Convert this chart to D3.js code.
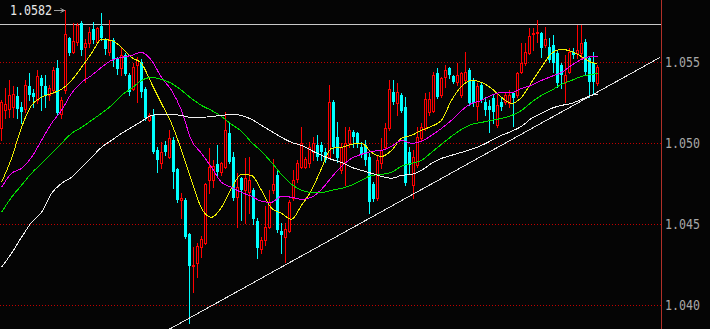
<!DOCTYPE html>
<html>
<head>
<meta charset="utf-8">
<script src="https://cdn.jsdelivr.net/npm/d3@7"></script>
<style>
  html, body { margin: 0; padding: 0; background: #050505; }
  svg { display: block; }
  text { font-family: "DejaVu Sans Mono", monospace; }
</style>
</head>
<body>
<div id="chart"></div>
<script>
// daily candles, oldest first (prices)
const openP = [
  1.05090, 1.05201, 1.05207, 1.05220, 1.05288, 1.05220, 1.05207, 1.05349, 1.05306, 1.05263,
  1.05399, 1.05349, 1.05294, 1.05325, 1.05460, 1.05177, 1.05325, 1.05646, 1.05559, 1.05621,
  1.05738, 1.05590, 1.05615, 1.05701, 1.05621, 1.05720, 1.05633, 1.05559, 1.05633, 1.05516,
  1.05460, 1.05541, 1.05417, 1.05331, 1.05479, 1.05497, 1.05331, 1.05140, 1.05170, 1.04954,
  1.04874, 1.04985, 1.04911, 1.05016, 1.04837, 1.04646, 1.04646, 1.04436, 1.04239, 1.04257,
  1.04356, 1.04381, 1.04769, 1.04769, 1.04868, 1.04819, 1.04850, 1.05059, 1.04911, 1.04665,
  1.04782, 1.04708, 1.04695, 1.04708, 1.04516, 1.04344, 1.04399, 1.04479, 1.04708, 1.04800,
  1.04455, 1.04418, 1.04455, 1.04658, 1.04776, 1.04850, 1.04850, 1.04874, 1.04942, 1.04985,
  1.04985, 1.04942, 1.04911, 1.05251, 1.05035, 1.04831, 1.04880, 1.04998, 1.05066, 1.05059,
  1.04973, 1.04985, 1.04911, 1.04745, 1.04658, 1.04874, 1.04973, 1.05090, 1.05312, 1.05244,
  1.05294, 1.05220, 1.04942, 1.04739, 1.04862, 1.05029, 1.05090, 1.05189, 1.05195, 1.05430,
  1.05294, 1.05405, 1.05460, 1.05411, 1.05374, 1.05294, 1.05386, 1.05448, 1.05386, 1.05226,
  1.05356, 1.05251, 1.05226, 1.05275, 1.05109, 1.05251, 1.05251, 1.05244, 1.05306, 1.05294,
  1.05436, 1.05491, 1.05553, 1.05670, 1.05676, 1.05676, 1.05602, 1.05590, 1.05602, 1.05553,
  1.05479, 1.05374, 1.05436, 1.05559, 1.05553, 1.05553, 1.05621, 1.05522, 1.05491, 1.05368
]
const highP = [
  1.05263, 1.05337, 1.05386, 1.05349, 1.05343, 1.05251, 1.05386, 1.05430, 1.05331, 1.05448,
  1.05417, 1.05417, 1.05356, 1.05467, 1.05510, 1.05282, 1.05818, 1.05652, 1.05738, 1.05738,
  1.05750, 1.05639, 1.05713, 1.05744, 1.05713, 1.05800, 1.05646, 1.05757, 1.05646, 1.05528,
  1.05590, 1.05553, 1.05430, 1.05491, 1.05528, 1.05516, 1.05343, 1.05183, 1.05207, 1.04973,
  1.05004, 1.05010, 1.05078, 1.05035, 1.04843, 1.04689, 1.04658, 1.04442, 1.04356, 1.04381,
  1.04424, 1.04751, 1.04967, 1.04893, 1.04985, 1.04880, 1.05189, 1.05121, 1.04942, 1.04813,
  1.04788, 1.04905, 1.04911, 1.04720, 1.04535, 1.04418, 1.04609, 1.04708, 1.04899, 1.04831,
  1.04504, 1.04504, 1.04646, 1.04831, 1.04893, 1.05096, 1.04911, 1.05004, 1.05035, 1.05047,
  1.05004, 1.04967, 1.05356, 1.05263, 1.05127, 1.04998, 1.05096, 1.05096, 1.05078, 1.05066,
  1.05004, 1.05016, 1.04936, 1.04757, 1.04924, 1.05029, 1.05121, 1.05386, 1.05386, 1.05368,
  1.05306, 1.05282, 1.04973, 1.04954, 1.05096, 1.05121, 1.05306, 1.05312, 1.05436, 1.05460,
  1.05405, 1.05479, 1.05467, 1.05417, 1.05491, 1.05436, 1.05559, 1.05460, 1.05399, 1.05368,
  1.05368, 1.05282, 1.05263, 1.05294, 1.05306, 1.05275, 1.05306, 1.05325, 1.05312, 1.05436,
  1.05615, 1.05615, 1.05707, 1.05707, 1.05757, 1.05683, 1.05713, 1.05646, 1.05664, 1.05571,
  1.05491, 1.05541, 1.05584, 1.05584, 1.05726, 1.05726, 1.05639, 1.05528, 1.05559, 1.05479
]
const lowP = [
  1.05016, 1.05152, 1.05158, 1.05158, 1.05152, 1.05121, 1.05189, 1.05263, 1.05220, 1.05244,
  1.05201, 1.05220, 1.05263, 1.05306, 1.05170, 1.05152, 1.05306, 1.05541, 1.05553, 1.05602,
  1.05541, 1.05374, 1.05590, 1.05615, 1.05615, 1.05633, 1.05547, 1.05541, 1.05473, 1.05423,
  1.05417, 1.05417, 1.05294, 1.05325, 1.05251, 1.05282, 1.05140, 1.05133, 1.04936, 1.04819,
  1.04843, 1.04924, 1.04905, 1.04720, 1.04634, 1.04535, 1.04412, 1.03887, 1.04078, 1.04171,
  1.04294, 1.04375, 1.04689, 1.04726, 1.04788, 1.04800, 1.04843, 1.04874, 1.04646, 1.04479,
  1.04523, 1.04504, 1.04566, 1.04498, 1.04288, 1.04319, 1.04368, 1.04473, 1.04689, 1.04449,
  1.04319, 1.04263, 1.04449, 1.04646, 1.04757, 1.04843, 1.04843, 1.04850, 1.04893, 1.04893,
  1.04893, 1.04880, 1.04905, 1.04936, 1.04880, 1.04813, 1.04739, 1.04973, 1.04973, 1.04973,
  1.04911, 1.04862, 1.04566, 1.04640, 1.04646, 1.04843, 1.04967, 1.05078, 1.05238, 1.05170,
  1.05189, 1.04739, 1.04813, 1.04658, 1.04850, 1.05016, 1.05078, 1.05170, 1.05189, 1.05275,
  1.05282, 1.05343, 1.05399, 1.05368, 1.05356, 1.05282, 1.05374, 1.05232, 1.05226, 1.05140,
  1.05251, 1.05170, 1.05066, 1.05121, 1.05096, 1.05201, 1.05238, 1.05220, 1.05103, 1.05282,
  1.05430, 1.05479, 1.05547, 1.05571, 1.05621, 1.05528, 1.05590, 1.05497, 1.05436, 1.05343,
  1.05337, 1.05251, 1.05430, 1.05522, 1.05522, 1.05522, 1.05417, 1.05282, 1.05306, 1.05356
]
const closeP = [
  1.05251, 1.05238, 1.05294, 1.05300, 1.05207, 1.05189, 1.05356, 1.05294, 1.05282, 1.05411,
  1.05349, 1.05288, 1.05337, 1.05448, 1.05183, 1.05263, 1.05670, 1.05553, 1.05627, 1.05726,
  1.05571, 1.05615, 1.05683, 1.05633, 1.05707, 1.05646, 1.05578, 1.05633, 1.05516, 1.05454,
  1.05541, 1.05423, 1.05312, 1.05467, 1.05510, 1.05312, 1.05152, 1.05170, 1.04942, 1.04893,
  1.04942, 1.04942, 1.05029, 1.04819, 1.04646, 1.04658, 1.04418, 1.04239, 1.04245, 1.04362,
  1.04405, 1.04745, 1.04850, 1.04856, 1.04819, 1.04874, 1.05078, 1.04880, 1.04658, 1.04726,
  1.04708, 1.04782, 1.04769, 1.04529, 1.04350, 1.04399, 1.04479, 1.04634, 1.04745, 1.04461,
  1.04430, 1.04467, 1.04634, 1.04769, 1.04874, 1.04998, 1.04899, 1.04973, 1.04998, 1.04911,
  1.04942, 1.04893, 1.05251, 1.04973, 1.04905, 1.04973, 1.04998, 1.05078, 1.05035, 1.04998,
  1.04930, 1.04893, 1.04634, 1.04652, 1.04893, 1.04954, 1.05090, 1.05331, 1.05251, 1.05312,
  1.05195, 1.04751, 1.04862, 1.04911, 1.05035, 1.05096, 1.05269, 1.05269, 1.05417, 1.05282,
  1.05399, 1.05448, 1.05417, 1.05374, 1.05417, 1.05430, 1.05436, 1.05244, 1.05244, 1.05349,
  1.05263, 1.05201, 1.05201, 1.05189, 1.05232, 1.05220, 1.05294, 1.05294, 1.05275, 1.05430,
  1.05491, 1.05559, 1.05658, 1.05676, 1.05683, 1.05584, 1.05639, 1.05510, 1.05491, 1.05368,
  1.05417, 1.05417, 1.05559, 1.05541, 1.05571, 1.05615, 1.05436, 1.05374, 1.05374, 1.05467
]

// moving averages, read every 2.5 candles
const maAt = d3.range(0, 150, 2.5).concat([149])
const maFast = [
  1.04757, 1.04905, 1.05096, 1.05232, 1.05282, 1.05306, 1.05331, 1.05386, 1.05467, 1.05553,
  1.05639, 1.05633, 1.05590, 1.05528, 1.05491, 1.05368, 1.05244, 1.05121, 1.04954, 1.04769,
  1.04597, 1.04541, 1.04603, 1.04720, 1.04806, 1.04800, 1.04708, 1.04597, 1.04566, 1.04529,
  1.04615, 1.04708, 1.04843, 1.04967, 1.04973, 1.04992, 1.04998, 1.04942, 1.04917, 1.04954,
  1.05029, 1.05047, 1.05078, 1.05103, 1.05140, 1.05263, 1.05349, 1.05386, 1.05374, 1.05337,
  1.05282, 1.05244, 1.05282, 1.05374, 1.05467, 1.05553, 1.05578, 1.05565, 1.05534, 1.05497,
  1.05491
]
const maMid = [
  1.04726, 1.04813, 1.04843, 1.04911, 1.05016, 1.05121, 1.05201, 1.05306, 1.05374, 1.05417,
  1.05467, 1.05510, 1.05528, 1.05541, 1.05559, 1.05510, 1.05405, 1.05325, 1.05201, 1.05016,
  1.04936, 1.04850, 1.04757, 1.04726, 1.04695, 1.04671, 1.04640, 1.04634, 1.04671, 1.04665,
  1.04652, 1.04665, 1.04714, 1.04788, 1.04856, 1.04905, 1.04930, 1.04948, 1.04954, 1.04979,
  1.05016, 1.04998, 1.05010, 1.05047, 1.05090, 1.05140, 1.05201, 1.05244, 1.05263, 1.05294,
  1.05312, 1.05312, 1.05337, 1.05356, 1.05386, 1.05411, 1.05436, 1.05479, 1.05516, 1.05534,
  1.05534
]
const maSlow = [
  1.04572, 1.04665, 1.04739, 1.04813, 1.04874, 1.04936, 1.04998, 1.05059, 1.05096, 1.05140,
  1.05183, 1.05232, 1.05294, 1.05337, 1.05386, 1.05405, 1.05393, 1.05368, 1.05325, 1.05275,
  1.05232, 1.05201, 1.05164, 1.05115, 1.05072, 1.05004, 1.04948, 1.04880, 1.04806, 1.04745,
  1.04708, 1.04695, 1.04695, 1.04708, 1.04720, 1.04739, 1.04769, 1.04800, 1.04806, 1.04819,
  1.04856, 1.04874, 1.04893, 1.04942, 1.04992, 1.05041, 1.05084, 1.05115, 1.05127, 1.05140,
  1.05152, 1.05170, 1.05201, 1.05251, 1.05294, 1.05325, 1.05362, 1.05386, 1.05411, 1.05423,
  1.05430
]
const maLong = [
  1.04233, 1.04319, 1.04418, 1.04510, 1.04572, 1.04689, 1.04751, 1.04788, 1.04850, 1.04911,
  1.04973, 1.05016, 1.05059, 1.05096, 1.05133, 1.05170, 1.05177, 1.05177, 1.05170, 1.05158,
  1.05158, 1.05164, 1.05170, 1.05177, 1.05170, 1.05146, 1.05109, 1.05072, 1.05035, 1.05004,
  1.04985, 1.04954, 1.04924, 1.04899, 1.04880, 1.04850, 1.04831, 1.04813, 1.04794, 1.04782,
  1.04800, 1.04806, 1.04831, 1.04874, 1.04905, 1.04924, 1.04942, 1.04961, 1.04985, 1.05016,
  1.05047, 1.05072, 1.05103, 1.05152, 1.05183, 1.05214, 1.05232, 1.05244, 1.05269, 1.05294,
  1.05300
]
const maColors = ['#f0f000', '#f000f0', '#00e000', '#f0f0f0']

const priceTicks = [1.040, 1.045, 1.050, 1.055]
const resistance = 1.05732
// trend line anchors: [candle index, price]
const trendFrom = [41.9, 1.03850]
const trendTo = [164.6, 1.05528]
const highLabel = '1.0582'
const highIndex = 16

const width = 710, height = 329
const plotRight = 661

const x = d3.scaleLinear().domain([0, 149]).range([1.5, 597.5])
const y = d3.scaleLinear().domain([1.040, 1.055]).range([305, 62])

const svg = d3.select('#chart').append('svg')
  .attr('width', width)
  .attr('height', height)

svg.append('rect')
  .attr('width', width).attr('height', height)
  .attr('fill', '#050505')

svg.append('defs').append('clipPath').attr('id', 'plot')
  .append('rect').attr('width', plotRight).attr('height', height)

const plot = svg.append('g').attr('clip-path', 'url(#plot)')

// dotted price grid
plot.selectAll('.grid')
  .data(priceTicks)
  .join('line')
    .attr('class', 'grid')
    .attr('x1', 0).attr('x2', plotRight)
    .attr('y1', d => Math.round(y(d)) + 0.5)
    .attr('y2', d => Math.round(y(d)) + 0.5)
    .attr('stroke', '#c00000')
    .attr('stroke-dasharray', '1,2')
    .attr('shape-rendering', 'crispEdges')

// horizontal resistance line
plot.append('line')
  .attr('x1', 0).attr('x2', plotRight)
  .attr('y1', Math.round(y(resistance)) + 0.5)
  .attr('y2', Math.round(y(resistance)) + 0.5)
  .attr('stroke', '#c8c8c8')
  .attr('shape-rendering', 'crispEdges')

const candles = openP.map((o, i) => ({
  i, o, h: highP[i], l: lowP[i], c: closeP[i], up: closeP[i] >= o
}))

const candle = plot.append('g').attr('shape-rendering', 'crispEdges')
  .selectAll('g')
  .data(candles)
  .join('g')

candle.append('line')
  .attr('x1', d => Math.floor(x(d.i)) + 0.5)
  .attr('x2', d => Math.floor(x(d.i)) + 0.5)
  .attr('y1', d => Math.round(y(d.h)))
  .attr('y2', d => Math.round(y(d.l)) + 1)
  .attr('stroke', d => d.up ? '#ff0000' : '#00ffff')

candle.append('rect')
  .each(function (d) {
    const top = Math.round(y(Math.max(d.o, d.c)))
    const bot = Math.round(y(Math.min(d.o, d.c)))
    const left = Math.floor(x(d.i)) - 1
    const r = d3.select(this)
    if (d.up) {
      r.attr('x', left + 0.5).attr('y', top + 0.5)
        .attr('width', 2).attr('height', Math.max(bot - top, 0.01))
        .attr('fill', '#050505').attr('stroke', '#ff0000')
    } else {
      r.attr('x', left).attr('y', top)
        .attr('width', 3).attr('height', Math.max(bot - top, 1))
        .attr('fill', '#00ffff')
    }
  })

// moving averages
const maLine = d3.line()
  .x(d => x(d[0]))
  .y(d => y(d[1]))
  .curve(d3.curveMonotoneX)

plot.selectAll('.ma')
  .data([maFast, maMid, maSlow, maLong])
  .join('path')
    .attr('class', 'ma')
    .attr('d', vals => maLine(vals.map((v, k) => [maAt[k], v])))
    .attr('fill', 'none')
    .attr('stroke', (d, k) => maColors[k])
    .attr('stroke-width', 1)
    .attr('shape-rendering', 'crispEdges')

// rising trend line
plot.append('line')
  .attr('x1', x(trendFrom[0])).attr('y1', y(trendFrom[1]))
  .attr('x2', x(trendTo[0])).attr('y2', y(trendTo[1]))
  .attr('stroke', '#e0e0e0')
  .attr('stroke-width', 1)
  .attr('shape-rendering', 'crispEdges')

// right price axis
svg.append('line')
  .attr('x1', plotRight + 0.5).attr('x2', plotRight + 0.5)
  .attr('y1', 0).attr('y2', height)
  .attr('stroke', '#b03028')
  .attr('shape-rendering', 'crispEdges')

svg.selectAll('.tick-label')
  .data(priceTicks)
  .join('text')
    .attr('class', 'tick-label')
    .attr('x', 665)
    .attr('y', d => Math.round(y(d)) + 5)
    .attr('fill', '#a8a8a8')
    .attr('font-size', 13.5)
    .attr('textLength', 35)
    .attr('lengthAdjust', 'spacingAndGlyphs')
    .text(d3.format('.3f'))

// highest price marker
const hx = x(highIndex), hy = y(highP[highIndex])
svg.append('text')
  .attr('x', 10).attr('y', Math.round(hy) + 5)
  .attr('fill', '#e8e8e8')
  .attr('font-size', 13.5)
  .attr('textLength', 42)
  .attr('lengthAdjust', 'spacingAndGlyphs')
  .text(highLabel)

svg.append('line')
  .attr('x1', 54).attr('x2', hx - 1)
  .attr('y1', Math.round(hy) + 0.5).attr('y2', Math.round(hy) + 0.5)
  .attr('stroke', '#a0a0a0')
  .attr('shape-rendering', 'crispEdges')

svg.append('path')
  .attr('d', `M${hx - 1},${Math.round(hy) + 0.5} l-4,-2 M${hx - 1},${Math.round(hy) + 0.5} l-4,2`)
  .attr('stroke', '#a0a0a0')
  .attr('fill', 'none')
</script>
</body>
</html>
